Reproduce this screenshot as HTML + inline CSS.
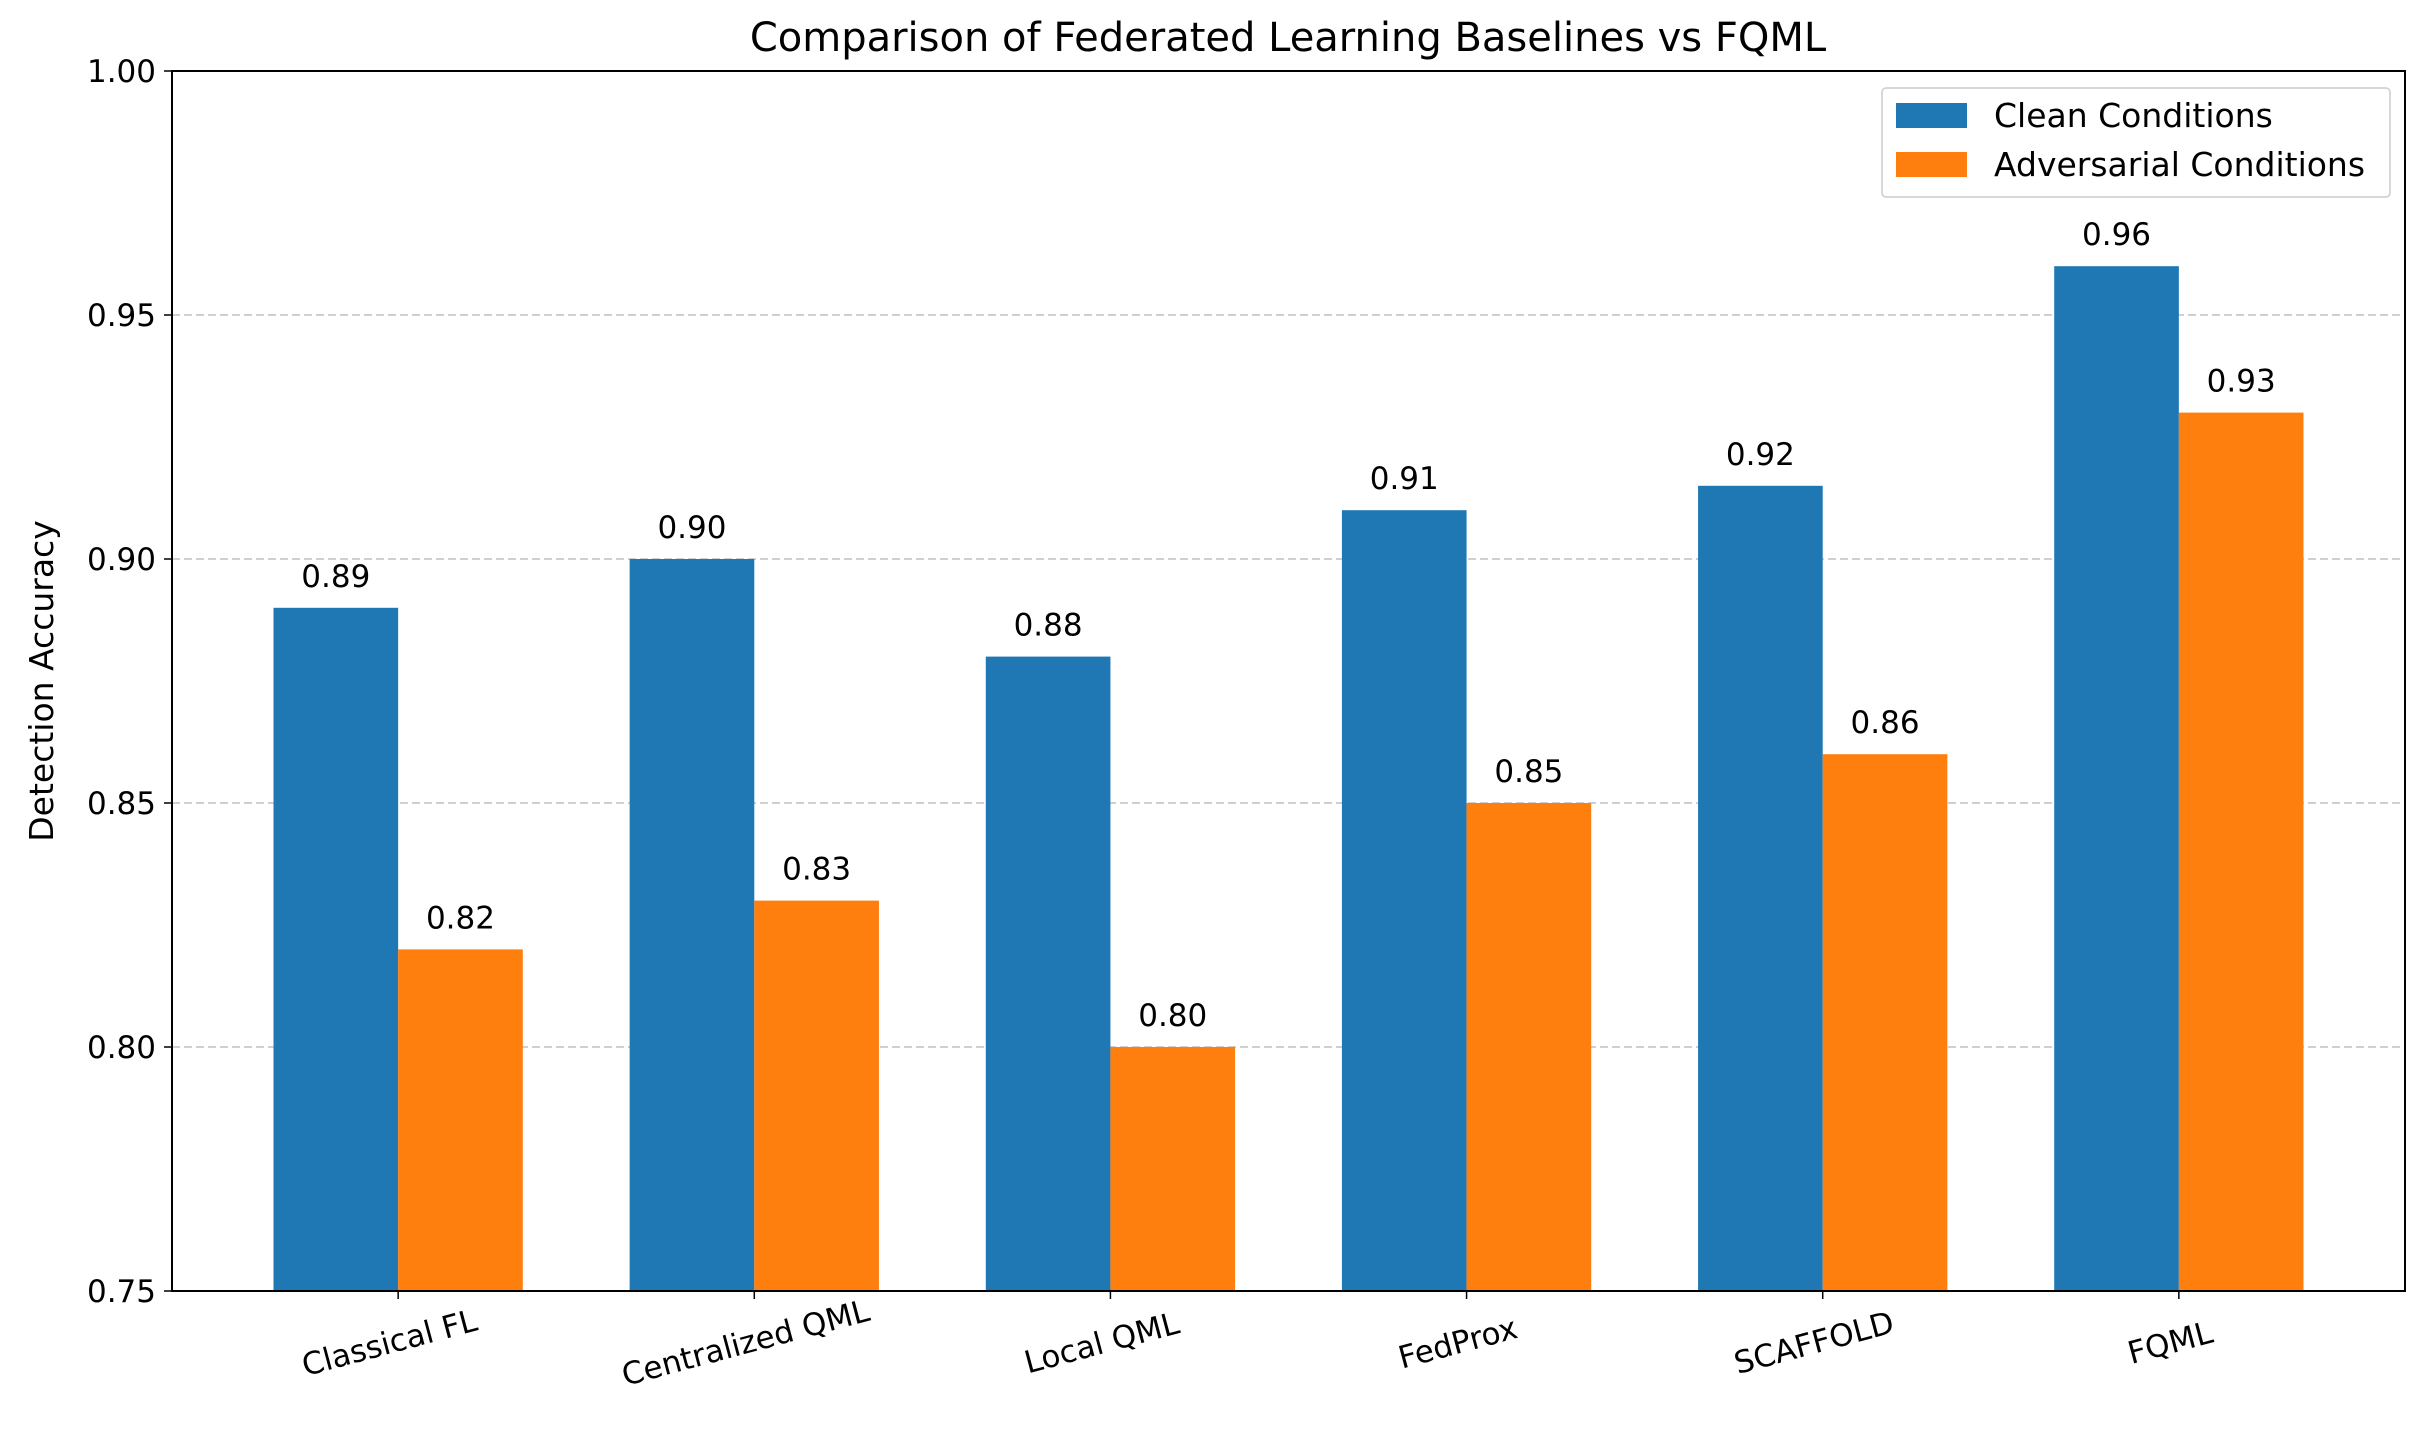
<!DOCTYPE html>
<html><head><meta charset="utf-8"><style>
html,body{margin:0;padding:0;background:#fff;}
svg{display:block;font-family:"DejaVu Sans","Liberation Sans",sans-serif;}
</style></head><body>
<svg id="chart" width="2433" height="1430" viewBox="0 0 2433 1430" xmlns="http://www.w3.org/2000/svg">
<rect width="2433" height="1430" fill="#fff"/>
<text x="1288" y="51" font-size="40" text-anchor="middle">Comparison of Federated Learning Baselines vs FQML</text>
<g id="grid"></g><g id="bars"></g><g id="labels"></g><g id="axes"></g>
<text transform="translate(53,681) rotate(-90)" font-size="33" text-anchor="middle">Detection Accuracy</text>
<g>
<rect x="1882" y="88" width="508" height="109" fill="#fff" fill-opacity="0.8" stroke="#ccc" stroke-width="1.5" rx="4"/>
<rect x="1896" y="103" width="71" height="25" fill="#1f77b4"/>
<text x="1994" y="127" font-size="33">Clean Conditions</text>
<rect x="1896" y="152" width="71" height="25" fill="#ff7f0e"/>
<text x="1994" y="176" font-size="33">Adversarial Conditions</text>
</g>
</svg>
<script>
const categories = ["Classical FL","Centralized QML","Local QML","FedProx","SCAFFOLD","FQML"];
const cleanValues = [0.89,0.90,0.88,0.91,0.915,0.96];
const advValues = [0.82,0.83,0.80,0.85,0.86,0.93];
const yTicks = [0.75,0.80,0.85,0.90,0.95,1.00];
const NS="http://www.w3.org/2000/svg";
const L=172,R=2405,T=71,B=1291;
const xMin=-0.635,xMax=categories.length-1+0.635;
const yMin=0.75,yMax=1.0,bw=0.35;
function xs(v){return L+(v-xMin)/(xMax-xMin)*(R-L);}
function ys(v){return B-(v-yMin)/(yMax-yMin)*(B-T);}
function mk(tag,attrs,parent,text){const e=document.createElementNS(NS,tag);for(const k in attrs)e.setAttribute(k,attrs[k]);if(text!==undefined)e.textContent=text;document.getElementById(parent).appendChild(e);return e;}
yTicks.forEach(t=>{
  if(t>yMin&&t<yMax){const g=mk('line',{x1:L,x2:R,y1:ys(t),y2:ys(t),stroke:'#b0b0b0','stroke-width':1.5,'stroke-dasharray':'8,4','stroke-opacity':0.8},'grid');
  
  }
  const tk=mk('line',{x1:L-8,x2:L,y1:ys(t),y2:ys(t),stroke:'#000','stroke-width':1.5},'axes');
  
  
  const tl=mk('text',{x:L-16,y:ys(t)+11,'font-size':31,'text-anchor':'end'},'axes',t.toFixed(2));
  
  
});
function bar(i,v,off,color,name){
  const x0=xs(i+off-bw/2),x1=xs(i+off+bw/2);
  const r=mk('rect',{x:x0,y:ys(v),width:x1-x0,height:B-ys(v),fill:color},'bars');
  
  
  const t=mk('text',{x:(x0+x1)/2,y:ys(v)-21,'font-size':31,'text-anchor':'middle'},'labels',v.toFixed(2));
  
  
}
categories.forEach((c,i)=>{
  bar(i,cleanValues[i],-bw/2,'#1f77b4','bar-clean');
  bar(i,advValues[i],bw/2,'#ff7f0e','bar-adversarial');
  const x=xs(i);
  const tk=mk('line',{x1:x,x2:x,y1:B,y2:B+8,stroke:'#000','stroke-width':1.5},'axes');
  
  
  const tl=mk('text',{x:0,y:0,'font-size':31,'text-anchor':'middle',transform:`translate(${x-6},${B+62}) rotate(-15)`},'axes',c);
  
  
});
const fr=mk('rect',{x:L,y:T,width:R-L,height:B-T,fill:'none',stroke:'#000','stroke-width':2},'axes');


</script>
</body></html>
